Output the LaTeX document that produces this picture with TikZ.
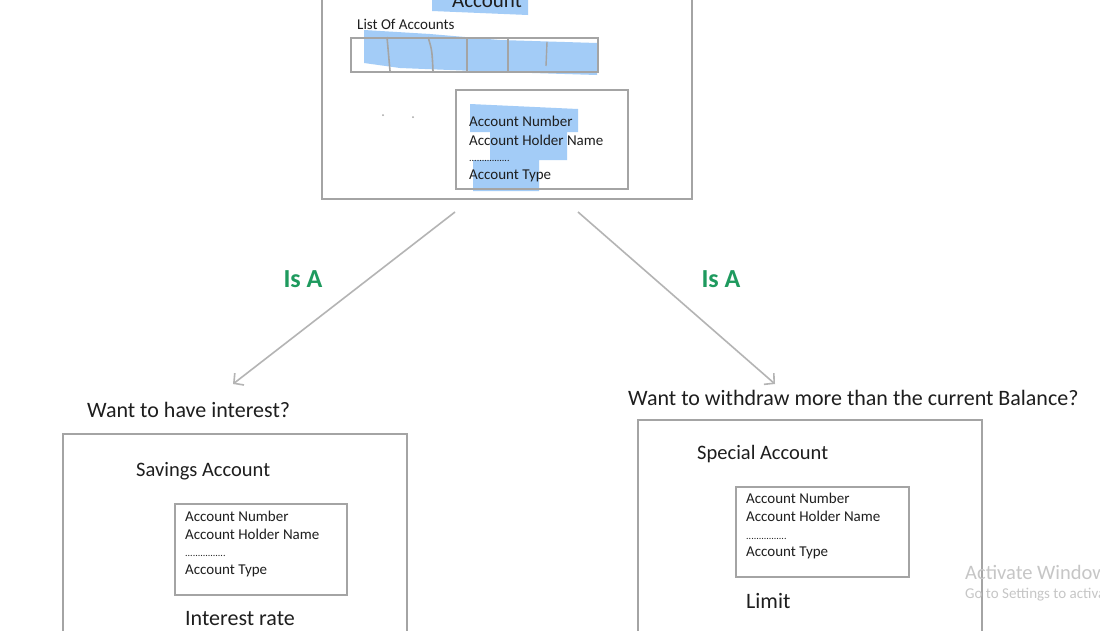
\documentclass[tikz,border=0pt]{standalone}
\usepackage{fontspec}
\setmainfont{Carlito}
\usetikzlibrary{arrows.meta}
\definecolor{boxgray}{HTML}{A4A4A4}
\definecolor{arrgray}{HTML}{B4B4B4}
\definecolor{hl}{HTML}{A3CCF7}
\definecolor{isagreen}{HTML}{1E9A5E}
\definecolor{txt}{HTML}{1E1E1E}
\definecolor{wm}{HTML}{C6C6C6}
\tikzset{
  frame/.style={draw=boxgray, line width=1.8pt, fill=none},
  isa/.style={font=\fontsize{26}{30}\selectfont\bfseries, text=isagreen, inner sep=0pt},
  small/.style={font=\fontsize{15}{18}\selectfont, text=txt, anchor=west, inner sep=0pt},
  title/.style={font=\fontsize{20.5}{24}\selectfont, text=txt, anchor=west, inner sep=0pt},
  question/.style={font=\fontsize{22}{26}\selectfont, text=txt, anchor=west, inner sep=0pt},
  bigger/.style={font=\fontsize{22}{26}\selectfont, text=txt, anchor=west, inner sep=0pt},
  conn/.style={draw=arrgray, line width=1.6pt, -{Straight Barb[length=7pt,width=15pt,line width=1.6pt]}},
  water/.style={text=wm, anchor=west, inner sep=0pt},
}
\newcommand{\mydots}{{\fontsize{10}{12}\selectfont ................}}
\begin{document}
\begin{tikzpicture}[x=1pt,y=-1pt]
\useasboundingbox (0,0) rectangle (1100,630);
\clip (0,0) rectangle (1100,630);
\fill[white] (0,0) rectangle (1100,630);

% ---------- top: Account ----------
\fill[hl] (432,-2) -- (528,-2) -- (528,15) -- (432,11) -- cycle;
\node[font=\fontsize{21}{24}\selectfont, text=txt, inner sep=0pt] (acctitle) at (487,1) {Account};
\node[frame, minimum width=370pt, minimum height=230pt, anchor=south west, inner sep=0pt] (top) at (321,200) {};

\node[small] (listlbl) at (357,24) {List Of Accounts};
\fill[hl] (364,30) -- (430,34) -- (500,40) -- (597,43) -- (597,75) -- (500,72) -- (400,68) -- (364,63) -- cycle;
\node[frame, minimum width=247pt, minimum height=34pt, anchor=north west, inner sep=0pt] (arr) at (350,37) {};
\draw[boxgray, line width=1.6pt] (387,37) -- (390,71);
\draw[boxgray, line width=1.6pt] (428,37) .. controls (432,50) .. (433,71);
\draw[boxgray, line width=1.6pt] (467,37) -- (467,71);
\draw[boxgray, line width=1.6pt] (508,37) -- (508,71);
\draw[boxgray, line width=1.4pt] (547,42) -- (546,66);

\fill[boxgray] (383,115) circle (1pt);
\fill[boxgray] (413,117) circle (1pt);

\fill[hl] (470,104) -- (578,109) -- (578,132) -- (567,132) -- (567,160) -- (539,160) -- (539,191) -- (473,191) -- (473,160) -- (490,160) -- (490,132) -- (470,132) -- cycle;
\node[frame, minimum width=172pt, minimum height=99pt, anchor=north west, inner sep=0pt] (topinner) at (455,89) {};
\node[small] (t1) at (469,121) {Account Number};
\node[small] (t2) at (469,140) {Account Holder Name};
\node[small] (t3) at (469,161) {\mydots};
\node[small] (t4) at (469,176) {Account Type};

% ---------- arrows ----------
\coordinate (ls) at (455,212);
\coordinate (le) at (233,384);
\coordinate (rs) at (578,212);
\coordinate (re) at (775,384);
\draw[conn] (ls) -- (le);
\draw[conn] (rs) -- (re);
\node[isa] (isa1) at (303,279) {Is A};
\node[isa] (isa2) at (721,279) {Is A};

% ---------- left: Savings Account ----------
\node[question] (q1) at (87,410) {Want to have interest?};
\node[frame, minimum width=344pt, minimum height=260pt, anchor=north west, inner sep=0pt] (sav) at (62,433) {};
\node[title] (savt) at (136,471) {Savings Account};
\node[frame, minimum width=172pt, minimum height=91pt, anchor=north west, inner sep=0pt] (savinner) at (174,503) {};
\node[small] (s1) at (185,516) {Account Number};
\node[small] (s2) at (185,534) {Account Holder Name};
\node[small] (s3) at (185,556) {\mydots};
\node[small] (s4) at (185,571) {Account Type};
\node[bigger] (rate) at (185,619) {Interest rate};

% ---------- right: Special Account ----------
\node[question] (q2) at (628,398) {Want to withdraw more than the current Balance?};
\node[frame, minimum width=344pt, minimum height=260pt, anchor=north west, inner sep=0pt] (spe) at (637,419) {};
\node[title] (spet) at (697,454) {Special Account};
\node[frame, minimum width=173pt, minimum height=90pt, anchor=north west, inner sep=0pt] (speinner) at (735,486) {};
\node[small] (p1) at (746,498) {Account Number};
\node[small] (p2) at (746,516) {Account Holder Name};
\node[small] (p3) at (746,539) {\mydots};
\node[small] (p4) at (746,553) {Account Type};
\node[bigger] (lim) at (746,601) {Limit};

% ---------- watermark ----------
\node[water, font=\fontsize{20.5}{24}\selectfont] (wm1) at (965,572) {Activate Windows};
\node[water, font=\fontsize{15}{18}\selectfont] (wm2) at (965,595) {Go to Settings to activate Windows.};
\end{tikzpicture}
\end{document}
